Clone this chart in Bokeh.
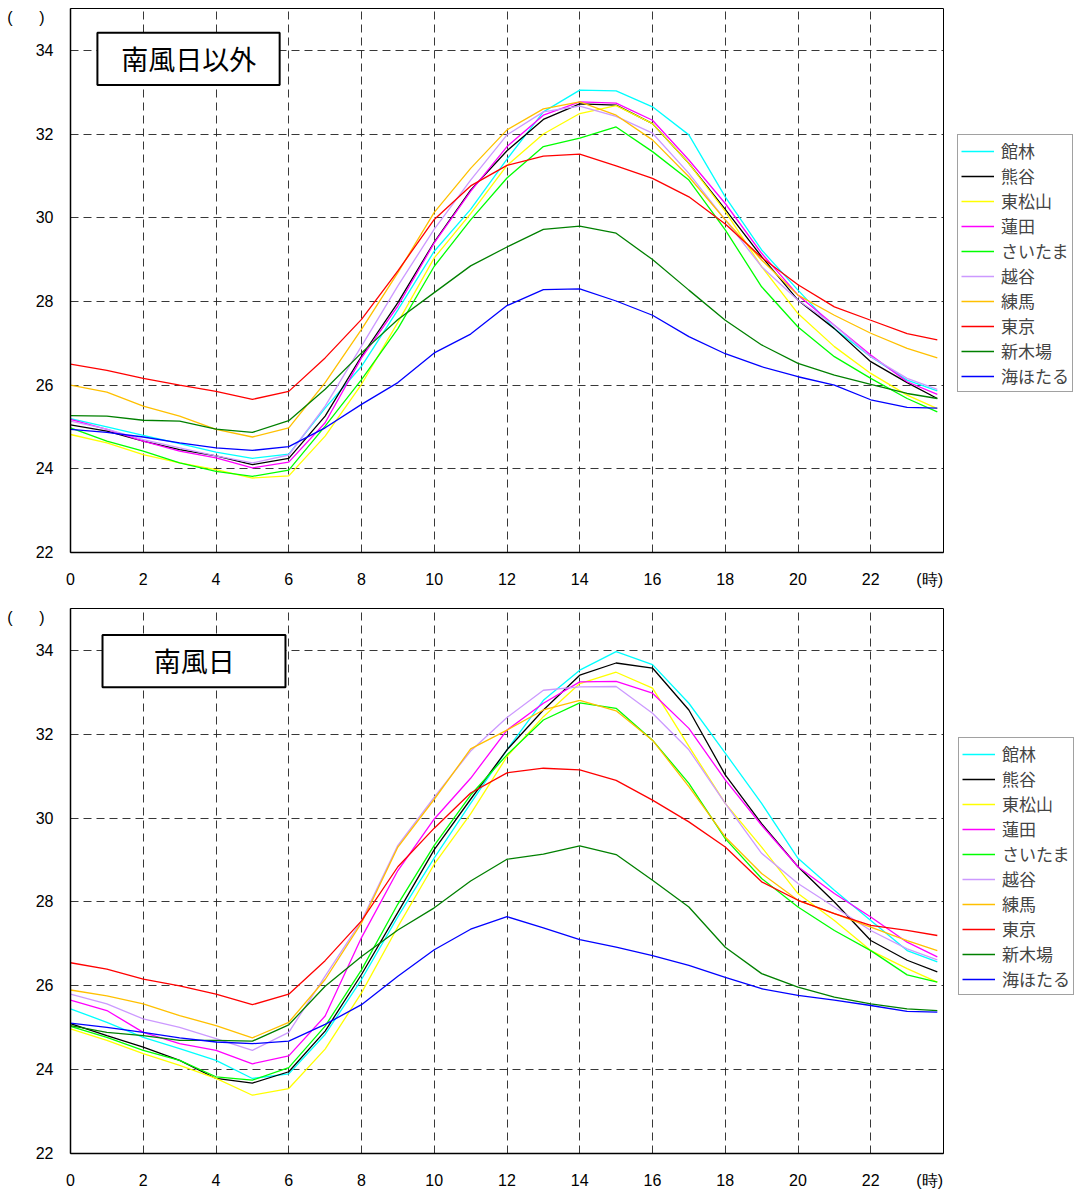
from bokeh.plotting import figure
from bokeh.models import Legend, LegendItem, Label, BoxAnnotation, FixedTicker, Range1d
from bokeh.layouts import column
from bokeh.embed import file_html
from bokeh.resources import INLINE

# ---------------- data ----------------
hours = [0, 1, 2, 3, 4, 5, 6, 7, 8, 9, 10, 11, 12, 13, 14, 15, 16, 17, 18, 19, 20, 21, 22, 23, 23.83]

stations = ["館林", "熊谷", "東松山", "蓮田", "さいたま", "越谷", "練馬", "東京", "新木場", "海ほたる"]
colors = ["#00FFFF", "#000000", "#FFFF00", "#FF00FF", "#00FF00", "#CC99FF", "#FFC000", "#FF0000", "#008000", "#0000FF"]

x_ticks = [0, 2, 4, 6, 8, 10, 12, 14, 16, 18, 20, 22]
y_ticks = [22, 24, 26, 28, 30, 32, 34]
x_unit_label = "(時)"
y_unit_label = "(\u00a0\u00a0\u00a0\u00a0\u00a0\u00a0)\u00a0\u00a0"

# 南風日以外 (non south-wind days)
top_tatebayashi = [25.2, 25.0, 24.8, 24.6, 24.4, 24.25, 24.35, 25.45, 26.45, 27.8, 29.2, 30.2, 31.4, 32.53, 33.05, 33.03, 32.65, 31.98, 30.5, 29.23, 28.27, 27.35, 26.68, 26.12, 25.86]
top_kumagaya = [25.05, 24.9, 24.66, 24.46, 24.31, 24.1, 24.25, 25.26, 26.69, 27.97, 29.42, 30.66, 31.6, 32.35, 32.72, 32.69, 32.25, 31.3, 30.2, 29.07, 28.03, 27.35, 26.56, 26.06, 25.68]
top_higashimatsuyama = [24.82, 24.62, 24.34, 24.14, 23.98, 23.78, 23.83, 24.78, 26.02, 27.5, 29.04, 30.1, 31.25, 32.0, 32.49, 32.68, 32.25, 31.3, 30.15, 28.83, 27.71, 26.92, 26.28, 25.76, 25.44]
top_hasuda = [25.18, 24.94, 24.66, 24.42, 24.26, 24.02, 24.16, 25.1, 26.65, 27.89, 29.4, 30.63, 31.7, 32.45, 32.77, 32.74, 32.33, 31.38, 30.34, 29.15, 28.15, 27.43, 26.72, 26.08, 25.78]
top_saitama = [24.98, 24.66, 24.42, 24.14, 23.94, 23.82, 23.97, 25.02, 26.13, 27.35, 28.84, 29.95, 30.95, 31.7, 31.9, 32.17, 31.58, 30.9, 29.71, 28.35, 27.39, 26.68, 26.16, 25.68, 25.36]
top_koshigaya = [25.14, 24.95, 24.7, 24.5, 24.31, 24.14, 24.33, 25.5, 26.93, 28.37, 29.73, 30.9, 31.98, 32.53, 32.67, 32.42, 32.02, 31.06, 29.95, 28.83, 28.03, 27.43, 26.68, 26.16, 25.9]
top_nerima = [26.0, 25.83, 25.5, 25.26, 24.94, 24.76, 24.98, 26.06, 27.33, 28.69, 30.13, 31.18, 32.1, 32.6, 32.77, 32.45, 31.86, 30.98, 29.95, 28.99, 28.15, 27.67, 27.24, 26.88, 26.65]
top_tokyo = [26.5, 26.35, 26.16, 26.0, 25.85, 25.66, 25.85, 26.65, 27.57, 28.73, 29.96, 30.76, 31.25, 31.47, 31.52, 31.24, 30.94, 30.5, 29.85, 29.05, 28.4, 27.87, 27.55, 27.23, 27.08]
top_shinkiba = [25.27, 25.26, 25.16, 25.14, 24.95, 24.87, 25.15, 25.9, 26.77, 27.57, 28.21, 28.85, 29.3, 29.72, 29.8, 29.63, 29.0, 28.27, 27.55, 26.96, 26.52, 26.24, 26.02, 25.8, 25.68]
top_umihotaru = [24.94, 24.87, 24.76, 24.62, 24.5, 24.44, 24.53, 24.98, 25.54, 26.06, 26.77, 27.22, 27.9, 28.28, 28.3, 28.01, 27.67, 27.16, 26.75, 26.44, 26.2, 26.0, 25.65, 25.47, 25.45]

# 南風日 (south-wind days)
bot_tatebayashi = [25.45, 25.13, 24.77, 24.5, 24.22, 23.79, 23.9, 24.84, 26.15, 27.65, 29.05, 30.35, 31.63, 32.81, 33.53, 33.97, 33.66, 32.74, 31.55, 30.35, 29.04, 28.28, 27.56, 26.84, 26.57]
bot_kumagaya = [25.1, 24.81, 24.54, 24.22, 23.79, 23.68, 23.95, 24.92, 26.27, 27.75, 29.25, 30.45, 31.63, 32.58, 33.41, 33.7, 33.58, 32.58, 31.03, 29.87, 28.84, 28.0, 27.08, 26.61, 26.33]
bot_higashimatsuyama = [24.97, 24.7, 24.38, 24.1, 23.79, 23.39, 23.55, 24.49, 25.83, 27.41, 28.9, 30.1, 31.47, 32.42, 33.21, 33.48, 33.1, 31.71, 30.35, 29.31, 28.2, 27.56, 26.84, 26.41, 26.09]
bot_hasuda = [25.66, 25.41, 24.89, 24.62, 24.46, 24.14, 24.33, 25.28, 27.15, 28.75, 29.98, 30.95, 32.1, 32.74, 33.25, 33.26, 32.98, 32.14, 30.91, 29.83, 28.84, 28.2, 27.64, 27.04, 26.69]
bot_saitama = [25.03, 24.77, 24.46, 24.22, 23.83, 23.75, 24.05, 25.04, 26.38, 27.95, 29.35, 30.55, 31.51, 32.34, 32.75, 32.62, 31.86, 30.83, 29.51, 28.56, 27.88, 27.32, 26.84, 26.26, 26.09]
bot_koshigaya = [25.8, 25.57, 25.21, 25.01, 24.74, 24.46, 24.89, 26.23, 27.55, 29.35, 30.5, 31.6, 32.4, 33.05, 33.13, 33.14, 32.5, 31.63, 30.35, 29.16, 28.44, 27.88, 27.32, 26.88, 26.62]
bot_nerima = [25.9, 25.76, 25.57, 25.29, 25.05, 24.76, 25.13, 26.15, 27.5, 29.31, 30.45, 31.65, 32.1, 32.58, 32.81, 32.56, 31.86, 30.75, 29.55, 28.68, 28.04, 27.72, 27.4, 27.08, 26.84]
bot_tokyo = [26.55, 26.4, 26.16, 26.0, 25.8, 25.55, 25.8, 26.6, 27.55, 28.84, 29.76, 30.6, 31.08, 31.19, 31.15, 30.9, 30.43, 29.91, 29.31, 28.48, 28.04, 27.72, 27.44, 27.32, 27.2]
bot_shinkiba = [25.05, 24.89, 24.81, 24.7, 24.7, 24.68, 25.07, 25.99, 26.7, 27.33, 27.86, 28.5, 29.02, 29.14, 29.34, 29.13, 28.52, 27.88, 26.92, 26.29, 25.97, 25.73, 25.57, 25.45, 25.41]
bot_umihotaru = [25.11, 25.01, 24.89, 24.76, 24.66, 24.62, 24.68, 25.08, 25.55, 26.23, 26.86, 27.35, 27.65, 27.38, 27.1, 26.92, 26.72, 26.49, 26.2, 25.93, 25.77, 25.66, 25.53, 25.39, 25.37]

top_series = [top_tatebayashi, top_kumagaya, top_higashimatsuyama, top_hasuda, top_saitama,
              top_koshigaya, top_nerima, top_tokyo, top_shinkiba, top_umihotaru]
bot_series = [bot_tatebayashi, bot_kumagaya, bot_higashimatsuyama, bot_hasuda, bot_saitama,
              bot_koshigaya, bot_nerima, bot_tokyo, bot_shinkiba, bot_umihotaru]

NUM_FONT = "Liberation Sans"
JP_FONT = "Noto Sans CJK JP"
X_UNIT_POS = 23.62
Y_UNIT_POS = 34.78


def make_chart(title, series, frame_h, border_top, border_bottom, box, legend_loc):
    p = figure(frame_width=873, frame_height=frame_h,
               min_border_left=70, min_border_right=137, min_border_top=border_top,
               min_border_bottom=border_bottom,
               x_range=Range1d(0, 24), y_range=Range1d(22, 35),
               output_backend="svg", toolbar_location=None)
    p.background_fill_color = "white"
    p.border_fill_color = "white"
    p.outline_line_color = "black"
    p.outline_line_width = 1

    for ax in (p.xaxis[0], p.yaxis[0]):
        ax.axis_line_color = "black"
        ax.axis_line_width = 1.5
        ax.major_tick_in = 0
        ax.major_tick_out = 0
        ax.minor_tick_in = 0
        ax.minor_tick_out = 0
        ax.major_label_text_font = NUM_FONT
        ax.major_label_text_font_size = "16px"
        ax.major_label_text_color = "black"
    p.xaxis[0].ticker = FixedTicker(ticks=x_ticks + [X_UNIT_POS])
    p.xaxis[0].major_label_overrides = {X_UNIT_POS: x_unit_label}
    p.yaxis[0].ticker = FixedTicker(ticks=y_ticks + [Y_UNIT_POS])
    p.yaxis[0].major_label_overrides = {Y_UNIT_POS: y_unit_label}
    p.xaxis[0].major_label_standoff = 18
    p.yaxis[0].major_label_standoff = 17

    p.xgrid[0].ticker = FixedTicker(ticks=x_ticks[1:])
    p.ygrid[0].ticker = FixedTicker(ticks=y_ticks[1:])
    for g in (p.xgrid[0], p.ygrid[0]):
        g.grid_line_color = "#222222"
        g.grid_line_dash = "8 5"
        g.grid_line_width = 1
        g.grid_line_alpha = 0.9

    items = []
    for name, col, vals in zip(stations, colors, series):
        r = p.line(hours, vals, line_color=col, line_width=1.3)
        items.append(LegendItem(label=name, renderers=[r]))

    legend = Legend(items=items, location=legend_loc,
                    label_text_font=JP_FONT, label_text_font_size="17px",
                    glyph_width=33, glyph_height=18, label_height=18,
                    label_standoff=7, spacing=0, padding=3, margin=0,
                    border_line_color="#444444", border_line_width=1,
                    background_fill_color="white", background_fill_alpha=1)
    p.add_layout(legend, "right")

    bl, br, bb, bt, cx, cy = box
    p.add_layout(BoxAnnotation(left=bl, right=br, bottom=bb, top=bt,
                               fill_color="white", fill_alpha=1,
                               line_color="black", line_alpha=1, line_width=2))
    p.add_layout(Label(x=cx, y=cy, text=title, text_align="center", text_baseline="middle",
                       text_font=JP_FONT, text_font_size="27px", text_color="black"))
    return p


p1 = make_chart("南風日以外", top_series, 544, 8, 56,
                (0.74, 5.75, 33.17, 34.42, 3.25, 33.8), (14, 160))
p2 = make_chart("南風日", bot_series, 545, 0, 47,
                (0.88, 5.91, 33.12, 34.37, 3.4, 33.75), (15, 158))

layout = column(p1, p2, spacing=0)
with open("out.html", "w") as f:
    f.write(file_html(layout, INLINE))
